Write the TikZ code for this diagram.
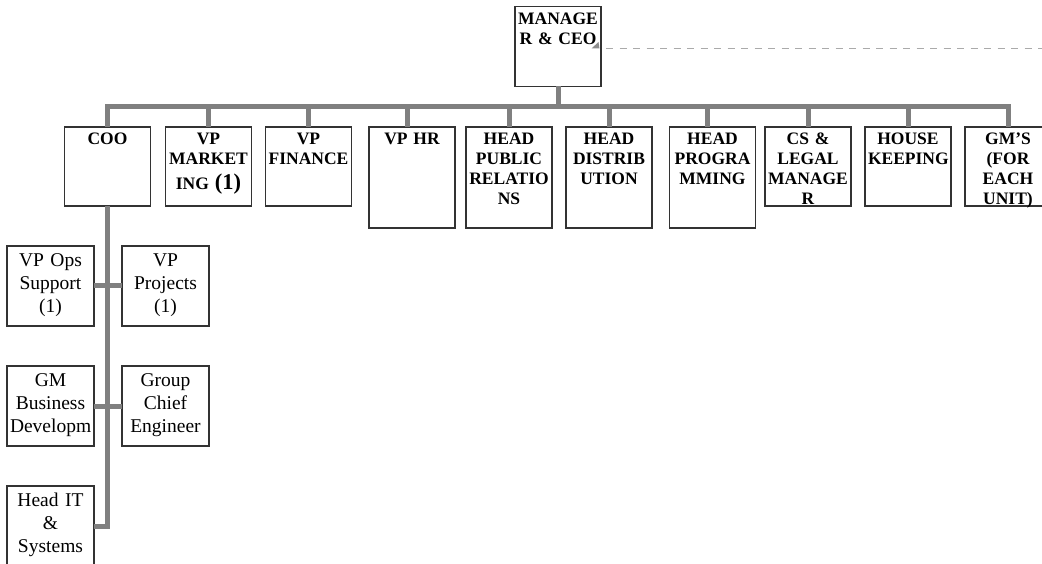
\documentclass[tikz,border=0pt]{standalone}
\usepackage{fontspec}
\setmainfont{Liberation Serif}
\usetikzlibrary{positioning}
\definecolor{chartgray}{RGB}{128,128,128}
\definecolor{boxline}{RGB}{51,51,51}
\definecolor{linkgray}{RGB}{170,170,170}
\newcommand{\bigone}{{\fontsize{22.5}{26}\selectfont(1)}}

\begin{document}
\begin{tikzpicture}[
    x=1pt, y=-1pt,
    unit/.style={rectangle,draw=boxline,fill=white,line width=1.3pt,
      text width=80pt,inner xsep=3pt,inner ysep=0pt,outer sep=0pt,align=center,
      anchor=north west,text height=18pt,text depth=61pt,
      font=\bfseries\fontsize{17.5}{19.8}\selectfont},
    tall/.style={unit,text depth=83pt},
    staff/.style={unit,text width=81pt,text height=20pt,text depth=60pt,
      font=\fontsize{19.5}{23.3}\selectfont},
    trunk/.style={draw=chartgray,line width=5pt},
    link/.style={draw=linkgray,line width=1.2pt,dash pattern=on 7pt off 6.5pt}
  ]
    \useasboundingbox (0,0) rectangle (1042,564);

    \node[unit,text depth=62pt] (ceo) at (515,6.5) {MANAGE\\R \& CEO};

    \node[unit] (coo) at (64.5,127) {COO};
    \node[unit,below right=0pt and 15pt of coo.north east] (mkt) {VP\\MARKET\\[5pt]ING \bigone};
    \node[unit,below right=0pt and 14pt of mkt.north east] (fin) {VP\\FINANCE};
    \node[tall,below right=0pt and 17.5pt of fin.north east] (hr) {VP HR};
    \node[tall,below right=0pt and 11pt of hr.north east] (pr) {HEAD\\PUBLIC\\RELATIO\\NS};
    \node[tall,below right=0pt and 14pt of pr.north east] (dist) {HEAD\\DISTRIB\\UTION};
    \node[tall,below right=0pt and 17.5pt of dist.north east] (prog) {HEAD\\PROGRA\\MMING};
    \node[unit,below right=0pt and 9.5pt of prog.north east] (cs) {CS \&\\LEGAL\\MANAGE\\R};
    \node[unit,below right=0pt and 14pt of cs.north east] (house) {HOUSE\\KEEPING};
    \node[unit,below right=0pt and 14pt of house.north east] (gm) {GM’S\\(FOR\\EACH\\UNIT)};

    \node[staff,below left=40pt and 13.5pt of coo.south] (vpops) {VP Ops\\Support\\(1)};
    \node[staff,below right=40pt and 14.5pt of coo.south] (vpproj) {VP\\Projects\\(1)};
    \node[staff,below right=40pt and 0pt of vpops.south west] (gmbd) {GM\\Business\\Developm};
    \node[staff,below right=40pt and 0pt of vpproj.south west] (gce) {Group\\Chief\\Engineer};
    \node[staff,below right=40pt and 0pt of gmbd.south west] (headit) {Head IT\\\&\\Systems};

    % org bus
    \coordinate (bus) at (0,107);
    \draw[trunk] (ceo.south) -- (ceo.south |- bus);
    \draw[trunk] (coo.north) -- (coo.north |- bus) -- (gm.north |- bus) -- (gm.north);
    \draw[trunk] (mkt.north) -- (mkt.north |- bus);
    \draw[trunk] (fin.north) -- (fin.north |- bus);
    \draw[trunk] ([xshift=-5pt]hr.north) -- ([xshift=-5pt]hr.north |- bus);
    \draw[trunk] (pr.north) -- (pr.north |- bus);
    \draw[trunk] (dist.north) -- (dist.north |- bus);
    \draw[trunk] ([xshift=-5pt]prog.north) -- ([xshift=-5pt]prog.north |- bus);
    \draw[trunk] (cs.north) -- (cs.north |- bus);
    \draw[trunk] (house.north) -- (house.north |- bus);

    % coo branch
    \draw[trunk] (coo.south) |- (headit.east);
    \draw[trunk] (vpops) -- (vpproj);
    \draw[trunk] (gmbd) -- (gce);

    % dotted link off the page
    \coordinate (offpage) at (1042,48.5);
    \draw[link] ([xshift=5pt]ceo.east |- offpage) -- (offpage);
    \fill[chartgray!90] ([xshift=-9.5pt]ceo.east |- offpage) -- ++(8,0) -- ++(-1,-6.5) -- cycle;
  \end{tikzpicture}
\end{document}
